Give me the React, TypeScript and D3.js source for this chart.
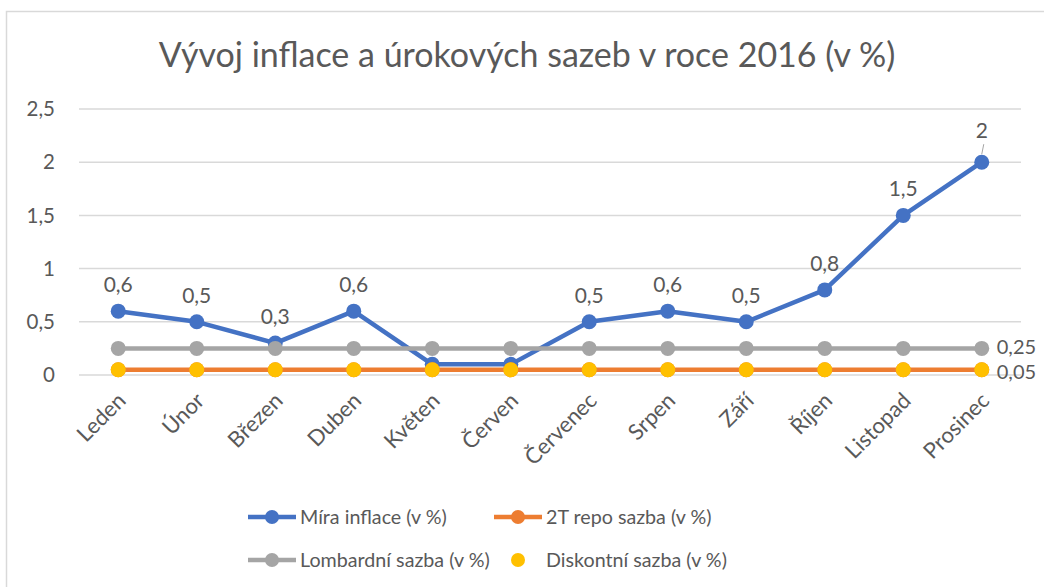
import React from "react";
import * as d3 from "d3";

const months = ["Leden", "Únor", "Březen", "Duben", "Květen", "Červen", "Červenec", "Srpen", "Září", "Říjen", "Listopad", "Prosinec"];
const inflace = [0.6, 0.5, 0.3, 0.6, 0.1, 0.1, 0.5, 0.6, 0.5, 0.8, 1.5, 2];
const repo = [0.05, 0.05, 0.05, 0.05, 0.05, 0.05, 0.05, 0.05, 0.05, 0.05, 0.05, 0.05];
const lombard = [0.25, 0.25, 0.25, 0.25, 0.25, 0.25, 0.25, 0.25, 0.25, 0.25, 0.25, 0.25];
const diskont = [0.05, 0.05, 0.05, 0.05, 0.05, 0.05, 0.05, 0.05, 0.05, 0.05, 0.05, 0.05];
const yTicks = [0, 0.5, 1, 1.5, 2, 2.5];
// which inflation points get a data label (May/June are hidden)
const inflaceShowLabel = [true, true, true, true, false, false, true, true, true, true, true, true];

const W = 1044;
const H = 587;
const FONT = "Lato, 'Open Sans', sans-serif";
const TEXT = "#595959";
const FS = 20.5;

const fmt = (v: number) => String(v).replace(".", ",");

export default function App() {
  const x = d3.scalePoint<string>().domain(months).range([79, 1021]).padding(0.5);
  const y = d3.scaleLinear().domain([0, 2.5]).range([375, 109]);

  const line = d3
    .line<number>()
    .x((_, i) => x(months[i]) as number)
    .y((d) => y(d));

  const series = [
    { name: "Míra inflace (v %)", data: inflace, color: "#4472C4", line: true },
    { name: "2T repo sazba (v %)", data: repo, color: "#ED7D31", line: true },
    { name: "Lombardní sazba (v %)", data: lombard, color: "#A5A5A5", line: true },
    { name: "Diskontní sazba (v %)", data: diskont, color: "#FFC000", line: false },
  ];

  const last = months.length - 1;
  const xLast = x(months[last]) as number;

  const legend = [
    { s: series[0], lx: 248, ly: 517 },
    { s: series[1], lx: 494, ly: 517 },
    { s: series[2], lx: 248, ly: 560 },
    { s: series[3], lx: 494, ly: 560 },
  ];

  return (
    <div style={{ position: "absolute", left: 0, top: 0 }}>
      <svg width={W} height={H} style={{ display: "block", fontFamily: FONT }}>
        <rect x={0} y={0} width={W} height={H} fill="#fff" />
        <rect x={6.5} y={11.5} width={W + 20} height={H + 20} fill="none" stroke="#D9D9D9" strokeWidth={1.5} />

        <text x={527} y={67} textAnchor="middle" fontSize={34} fill={TEXT}>
          Vývoj inflace a úrokových sazeb v roce 2016 (v %)
        </text>

        {yTicks.map((t) => (
          <g key={t}>
            <line x1={79} x2={1021} y1={y(t)} y2={y(t)} stroke="#D9D9D9" strokeWidth={1.5} />
            <text x={55} y={y(t)} dy="0.35em" textAnchor="end" fontSize={FS} fill={TEXT}>
              {fmt(t)}
            </text>
          </g>
        ))}

        {months.map((m) => (
          <text
            key={m}
            transform={`translate(${(x(m) as number) + 9},${402}) rotate(-45)`}
            textAnchor="end"
            fontSize={22}
            fill={TEXT}
          >
            {m}
          </text>
        ))}

        {series.map((s) => (
          <g key={s.name}>
            {s.line && (
              <path d={line(s.data) as string} fill="none" stroke={s.color} strokeWidth={4.5} strokeLinejoin="round" />
            )}
            {s.data.map((v, i) => (
              <circle key={i} cx={x(months[i]) as number} cy={y(v)} r={7.5} fill={s.color} />
            ))}
          </g>
        ))}

        {inflace.map((v, i) =>
          inflaceShowLabel[i] && i !== last ? (
            <text key={i} x={x(months[i]) as number} y={y(v) - 19} textAnchor="middle" fontSize={21} fill={TEXT}>
              {fmt(v)}
            </text>
          ) : null
        )}
        <line x1={xLast + 2} x2={xLast} y1={y(inflace[last]) - 18} y2={y(inflace[last]) - 8} stroke="#A5A5A5" strokeWidth={1} />
        <text x={xLast} y={y(inflace[last]) - 24} textAnchor="middle" fontSize={21} fill={TEXT}>
          {fmt(inflace[last])}
        </text>
        <text x={xLast + 15} y={y(lombard[last]) - 1} dy="0.35em" fontSize={20} fill={TEXT}>
          {fmt(lombard[last])}
        </text>
        <text x={xLast + 15} y={y(diskont[last]) + 2} dy="0.35em" fontSize={20} fill={TEXT}>
          {fmt(diskont[last])}
        </text>

        {legend.map(({ s, lx, ly }) => (
          <g key={s.name}>
            {s.line && <line x1={lx} x2={lx + 48} y1={ly} y2={ly} stroke={s.color} strokeWidth={4.5} />}
            <circle cx={lx + 24} cy={ly} r={7} fill={s.color} />
            <text x={lx + 52} y={ly} dy="0.35em" fontSize={19.7} fill={TEXT}>
              {s.name}
            </text>
          </g>
        ))}
      </svg>
    </div>
  );
}
